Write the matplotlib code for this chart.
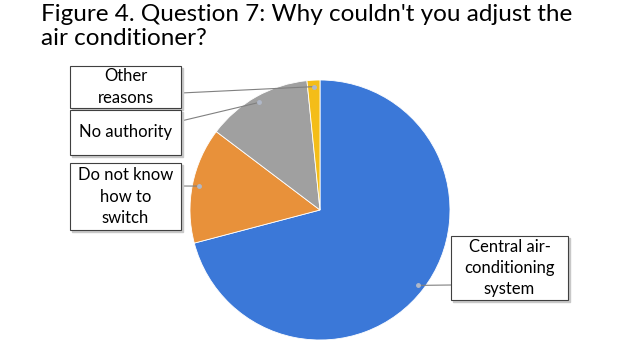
import numpy as np
import matplotlib.pyplot as plt
from matplotlib.patches import Rectangle

plt.rcParams["font.family"] = ["Lato", "DejaVu Sans"]

# 数据（顺时针，从12点方向开始）
labels = ["Central air-\nconditioning\nsystem", "Do not know\nhow to\nswitch", "No authority", "Other\nreasons"]
shares = [70.9, 14.4, 13.1, 1.6]
colors = ["#3B78D8", "#E8913A", "#A0A0A0", "#F4BD18"]
title = "Figure 4. Question 7: Why couldn't you adjust the\nair conditioner?"

# 标签框位置（像素，左,上,右,下，y从顶部算）
boxes = [(451, 236, 568, 300), (70, 163, 181, 230), (70, 110, 181, 155), (70, 66, 181, 108)]
anchor_y = [285, 186, 121, 93]

W, H = 640, 360
fig = plt.figure(figsize=(6.4, 3.6), dpi=100)
ax = fig.add_axes([0, 0, 1, 1])
cx, cy, r = 320, H - 210, 130
wedges, _ = ax.pie(shares, colors=colors, startangle=90, counterclock=False,
                   center=(cx, cy), radius=r,
                   wedgeprops=dict(edgecolor="white", linewidth=0.6))
ax.set_xlim(0, W)
ax.set_ylim(0, H)
ax.set_aspect("equal")
ax.axis("off")

for w, lab, (l, t, rr, b), ay in zip(wedges, labels, boxes, anchor_y):
    mid = np.deg2rad((w.theta1 + w.theta2) / 2)
    px = cx + 0.95 * r * np.cos(mid)
    py = cy + 0.95 * r * np.sin(mid)
    ex = rr if l < cx else l
    ax.plot([px, ex], [py, H - ay], color="#808080", lw=0.8, zorder=3)
    ax.plot(px, py, "o", ms=2.5, color="#b0b8c8", zorder=4)
    ax.add_patch(Rectangle((l + 2, H - b - 2), rr - l, b - t, color="#c8c8c8", zorder=4))
    ax.add_patch(Rectangle((l, H - b), rr - l, b - t, facecolor="white",
                           edgecolor="#404040", lw=0.8, zorder=5))
    ax.text((l + rr) / 2, H - (t + b) / 2, lab, ha="center", va="center",
            fontsize=12, linespacing=1.4, zorder=6)

fig.text(41 / W, 1 - 4 / H, title, ha="left", va="top", fontsize=17.5, linespacing=1.2)
fig.savefig("out.png", dpi=100)
